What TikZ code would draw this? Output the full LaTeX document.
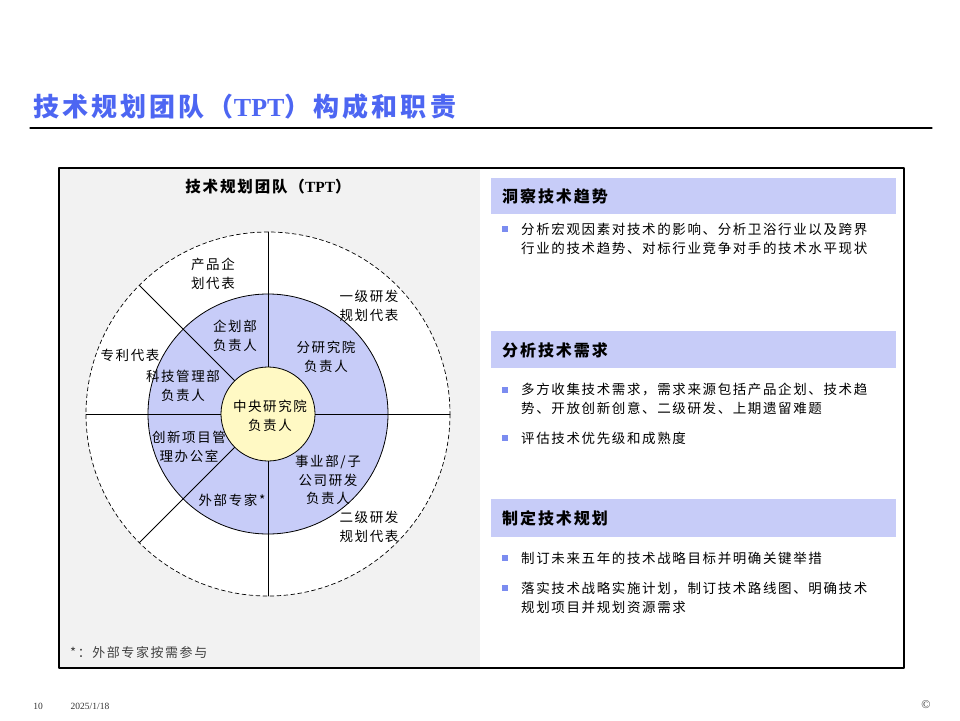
\documentclass[tikz,border=0pt]{standalone}
\usepackage{fontspec}
\setmainfont{Liberation Serif}
\newfontfamily\cjk[LetterSpace=12]{Noto Sans CJK SC}
\newfontfamily\cjktitle[LetterSpace=12]{Noto Sans CJK SC}
\usetikzlibrary{positioning}
\definecolor{TitleBlue}{HTML}{4D66F2}
\definecolor{RingBlue}{HTML}{C7CCF8}
\definecolor{CoreYellow}{HTML}{FFF9C4}
\definecolor{PanelGray}{HTML}{F2F2F2}
\definecolor{BulletBlue}{HTML}{7B8CF0}
\tikzset{
	role/.style={font=\cjk\fontsize{13.5}{18.5}\selectfont, align=center, inner sep=0pt},
	body/.style={font=\cjk\fontsize{13.5}{19}\selectfont, align=left, anchor=west, inner sep=0pt, text=black},
	hdrbar/.style={fill=RingBlue},
	hdrtext/.style={font=\cjk\fontsize{16}{18}\selectfont\bfseries, anchor=west, inner sep=0pt},
	bulletsq/.style={fill=BulletBlue, minimum size=6pt, inner sep=0pt},
	spoke/.style={black, line width=0.8pt},
	footer/.style={font=\fontsize{9.5}{11}\selectfont, text=black!80, inner sep=0pt}
}

\begin{document}
\begin{tikzpicture}[x=1pt, y=-1pt, line cap=round, line join=round]
	\useasboundingbox (0,0) rectangle (960,720);
	
	% Page title and rule
	\node[font=\cjktitle\fontsize{26}{30}\selectfont\bfseries, text=TitleBlue, anchor=west, inner sep=0pt]
		(title) at (33,107) {技术规划团队（{\rmfamily TPT}）构成和职责};
	\draw[line width=1.2pt] (30,128) -- (932,128);
	
	% Left panel background
	\fill[PanelGray] (59,168) rectangle (480,668);
	
	% Team circle
	\coordinate (ctr) at (268,414);
	\fill[white] (ctr) circle (182);
	\draw[dash pattern=on 4pt off 3pt, line width=0.7pt] (ctr) circle (182);
	\filldraw[fill=RingBlue, draw=black, line width=0.8pt] (ctr) circle (120);
	\foreach \a in {0,90,135,180,225,270}
		\draw[spoke] (ctr) -- ++(\a:182);
	\filldraw[fill=CoreYellow, draw=black, line width=0.8pt] (ctr) circle (47);
	
	% Panel title
	\node[font=\cjk\fontsize{15.5}{18}\selectfont\bfseries, inner sep=0pt] (tpt) at (268,187)
		{技术规划团队（{\rmfamily TPT}）};
	
	% Outer ring members
	\node[role] (prod) at (213,274) {产品企\\划代表};
	\node[role] (lvl1) at (369,306) {一级研发\\规划代表};
	\node[role] (patent) at (130,355) {专利代表};
	\node[role] (lvl2) at (369,527) {二级研发\\规划代表};
	
	% Inner ring members
	\node[role] (plan) at (235,336) {企划部\\负责人};
	\node[role] (branch) at (326,357) {分研究院\\负责人};
	\node[role] (stm) at (183,386) {科技管理部\\负责人};
	\node[role] (innov) at (189,447) {创新项目管\\理办公室};
	\node[role] (bu) at (328,480) {事业部/子\\公司研发\\负责人};
	\node[role] (expert) at (232,500) {外部专家*};
	
	% Centre
	\node[role] (central) at (270,416) {中央研究院\\负责人};
	
	% Footnote
	\node[font=\cjk\fontsize{13}{16}\selectfont, text=black!75, anchor=west, inner sep=0pt]
		(note) at (70,653) {*：外部专家按需参与};
	
	% Duty 1
	\fill[hdrbar] (491,178) rectangle (896,214);
	\node[hdrtext] (h1) at (502,196) {洞察技术趋势};
	\node[bulletsq] (b1) at (505,229) {};
	\node[body] (t1) at (521,238.5) {分析宏观因素对技术的影响、分析卫浴行业以及跨界\\行业的技术趋势、对标行业竞争对手的技术水平现状};
	
	% Duty 2
	\fill[hdrbar] (491,331) rectangle (896,368);
	\node[hdrtext] (h2) at (502,350) {分析技术需求};
	\node[bulletsq] (b2) at (505,390) {};
	\node[body] (t2) at (521,399) {多方收集技术需求，需求来源包括产品企划、技术趋\\势、开放创新创意、二级研发、上期遗留难题};
	\node[bulletsq] (b3) at (505,438) {};
	\node[body] (t3) at (521,438) {评估技术优先级和成熟度};
	
	% Duty 3
	\fill[hdrbar] (491,499) rectangle (896,537);
	\node[hdrtext] (h3) at (502,518) {制定技术规划};
	\node[bulletsq] (b4) at (505,558) {};
	\node[body] (t4) at (521,558) {制订未来五年的技术战略目标并明确关键举措};
	\node[bulletsq] (b5) at (505,588) {};
	\node[body] (t5) at (521,597.5) {落实技术战略实施计划，制订技术路线图、明确技术\\规划项目并规划资源需求};
	
	% Frame
	\draw[line width=1.2pt] (59,168) rectangle (904,668);
	
	% Footer
	\node[footer] (page) at (38,706) {10};
	\node[footer] (date) at (90,706) {2025/1/18};
	\node[footer, font=\fontsize{12}{13}\selectfont] (copy) at (926,705) {©};
	
\end{tikzpicture}
\end{document}
